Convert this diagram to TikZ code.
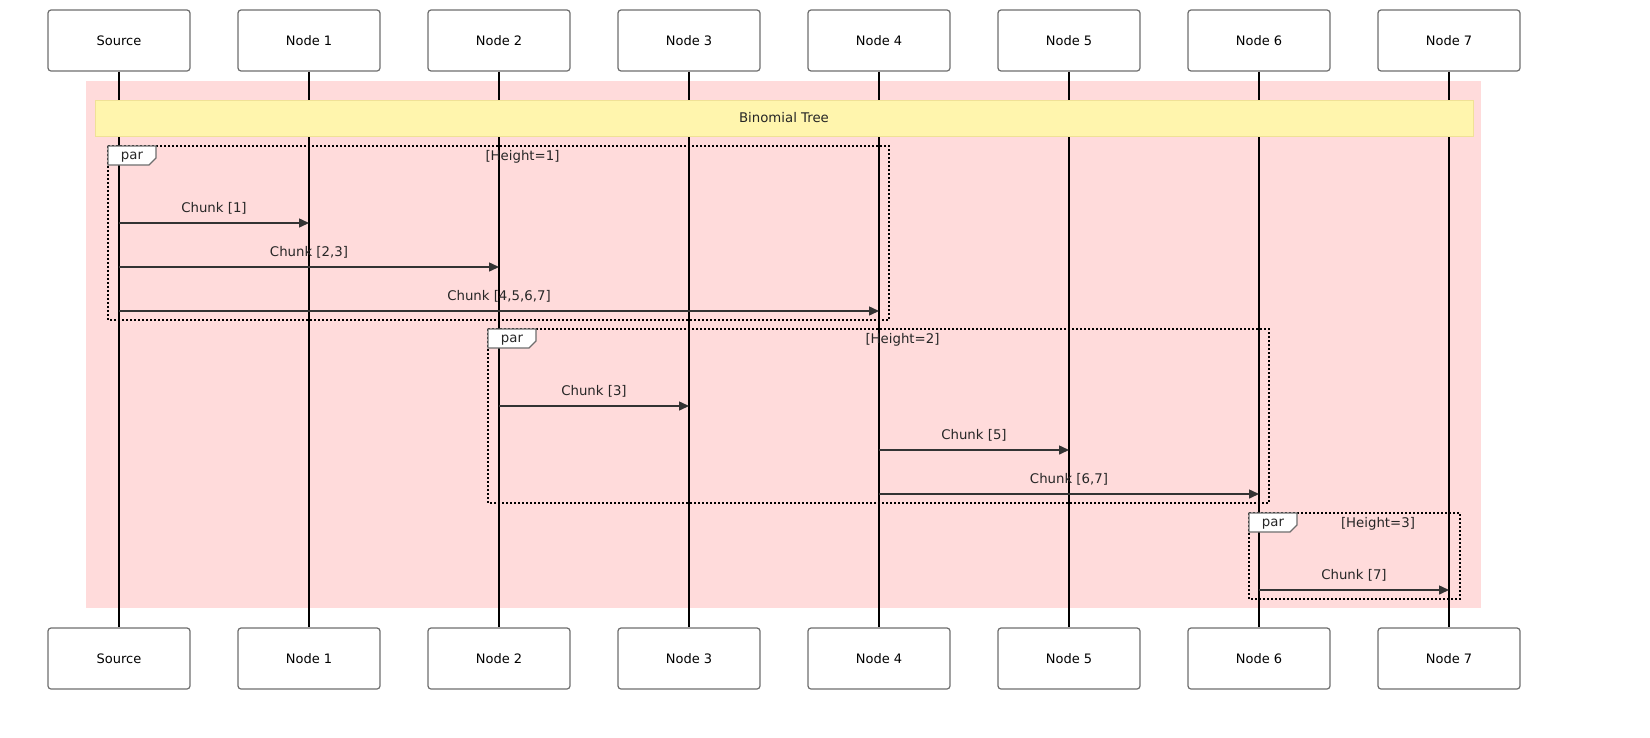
\documentclass[tikz,border=0pt]{standalone}
\usepackage{fontspec}
\setmainfont{DejaVu Sans}
\usetikzlibrary{arrows.meta}
\definecolor{pinkbg}{RGB}{255,219,219}
\definecolor{notefill}{RGB}{255,245,173}
\definecolor{notedraw}{RGB}{240,225,150}
\definecolor{boxdraw}{RGB}{110,110,110}
\definecolor{msgcol}{RGB}{51,51,51}
\begin{document}
\begin{tikzpicture}[x=1pt,y=-1pt,
  actor/.style={draw=boxdraw,line width=1.2pt,fill=white,rounded corners=3pt,
    minimum width=142pt,minimum height=61pt,inner sep=0pt,
    font=\fontsize{13}{15}\selectfont},
  life/.style={line width=2pt,black},
  msg/.style={line width=1.5pt,msgcol,-{Triangle[length=10pt,width=9pt]}},
  msglbl/.style={font=\fontsize{13.3}{15}\selectfont,inner sep=0pt,text=black!85},
  parbox/.style={line width=1.6pt,black,dash pattern=on 2pt off 2pt},
  partag/.style={draw=boxdraw,line width=1.2pt,fill=white},
  partxt/.style={font=\fontsize{13.3}{15}\selectfont,inner sep=0pt,text=black!85}]
\useasboundingbox (0,0) rectangle (1650,737);
% background rect
\fill[pinkbg] (86,81) rectangle (1481,608);
% actors
\foreach \n/\lab [count=\i from 0] in {s/Source,a/Node 1,b/Node 2,c/Node 3,d/Node 4,e/Node 5,f/Node 6,g/Node 7}{
  \node[actor] (\n T) at (119+190*\i,40.5) {\lab};
  \node[actor] (\n B) at (119+190*\i,658.5) {\lab};
  \draw[life] (\n T.south) -- (\n B.north);
}
% note
\node[draw=notedraw,line width=1pt,fill=notefill,minimum width=1378pt,minimum height=36pt,inner sep=0pt,
  font=\fontsize{13.3}{15}\selectfont,text=black!85] (note) at (784,118) {Binomial Tree};
% par 1
\draw[parbox] (108,146) rectangle (889,320);
\draw[partag] (108,146) -- (156,146) -- (156,158) -- (149,165) -- (108,165) -- cycle;
\node[partxt] (p1) at (132,157) {par};
\node[partxt] (h1) at (522.5,157) {[Height=1]};
% par 2
\draw[parbox] (488,329) rectangle (1269,503);
\draw[partag] (488,329) -- (536,329) -- (536,341) -- (529,348) -- (488,348) -- cycle;
\node[partxt] (p2) at (512,340) {par};
\node[partxt] (h2) at (902.5,340) {[Height=2]};
% par 3
\draw[parbox] (1249,513) rectangle (1460,599);
\draw[partag] (1249,513) -- (1297,513) -- (1297,525) -- (1290,532) -- (1249,532) -- cycle;
\node[partxt] (p3) at (1273,524) {par};
\node[partxt] (h3) at (1378,524) {[Height=3]};
% messages
\foreach \f/\t/\y/\lab in {s/a/223/{Chunk [1]},s/b/267/{Chunk [2,3]},s/d/311/{Chunk [4,5,6,7]},
  b/c/406/{Chunk [3]},d/e/450/{Chunk [5]},d/f/494/{Chunk [6,7]},f/g/590/{Chunk [7]}}{
  \draw[msg] (\f T.south |- 0,\y) -- (\t T.south |- 0,\y)
    node[msglbl,midway,above=8pt] {\lab};
}
\end{tikzpicture}
\end{document}
